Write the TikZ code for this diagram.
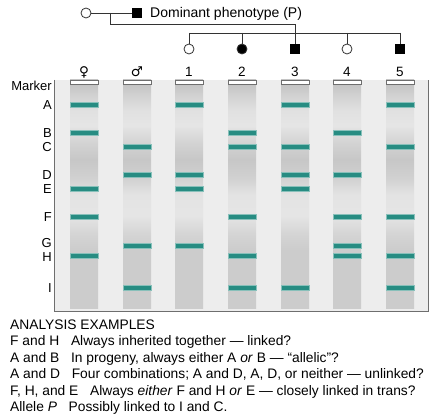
\documentclass[tikz,border=0pt]{standalone}
\usepackage{fontspec}
\setmainfont{Liberation Sans}
\newfontfamily\symfont{DejaVu Sans}
\usetikzlibrary{positioning}
\usepackage{xcolor}
\definecolor{bandteal}{HTML}{278C82}
\definecolor{gelbg}{HTML}{EDEDED}
\definecolor{gelline}{HTML}{6E6E6E}
\definecolor{pedline}{HTML}{333333}
\pgfdeclareverticalshading{lanegrad}{100bp}{%
  rgb(0bp)=(.80,.80,.80); rgb(25bp)=(.80,.80,.80); rgb(37.7bp)=(.80,.80,.80);%
  rgb(41bp)=(.83,.83,.83); rgb(45.4bp)=(.90,.90,.90); rgb(49.8bp)=(.89,.89,.89);%
  rgb(53.5bp)=(.82,.82,.82); rgb(57.5bp)=(.78,.78,.78); rgb(61.4bp)=(.83,.83,.83);%
  rgb(65.1bp)=(.90,.90,.90); rgb(68.4bp)=(.88,.88,.88); rgb(71.7bp)=(.82,.82,.82);%
  rgb(73.9bp)=(.77,.77,.77); rgb(75bp)=(.77,.77,.77); rgb(100bp)=(.77,.77,.77)}
\newcommand{\colgap}{\hspace{0.85em}}
\tikzset{
  txt/.style={font=\fontsize{13.5pt}{16pt}\selectfont, inner sep=0pt},
  ped/.style={draw=pedline, line width=0.8pt},
  female/.style={circle, draw=pedline, line width=0.8pt, fill=white,
                 minimum size=10pt, inner sep=0pt},
  affemale/.style={female, fill=black},
  afmale/.style={rectangle, fill=black, minimum size=9.5pt, inner sep=0pt},
  gel/.style={fill=gelbg, minimum width=373pt, minimum height=231pt, inner sep=0pt},
  lane/.style={shading=lanegrad, minimum width=28pt, minimum height=228pt, inner sep=0pt},
  well/.style={draw=gelline, fill=white, line width=0.8pt,
               minimum width=28pt, minimum height=4pt, inner sep=0pt},
  band/.style={fill=bandteal, draw=bandteal!55, line width=0.5pt,
               minimum width=28pt, minimum height=5pt, inner sep=0pt},
  marker/.style={anchor=east, inner sep=0pt, font=\fontsize{13pt}{16pt}\selectfont},
  note/.style={anchor=base west, inner sep=0pt, font=\fontsize{13.8pt}{16pt}\selectfont},
}

\begin{document}
\begin{tikzpicture}[x=1pt, y=-1pt]

\path[use as bounding box, fill=white] (0,0) rectangle (440,420);

%% ====================  PEDIGREE  ====================

\node[female] (mother) at (86,13) {};
\node[afmale] (father) at (137,13) {};
\node[anchor=base west, inner sep=0pt, font=\fontsize{14pt}{16pt}\selectfont]
  (pheno) at (150,18) {Dominant phenotype (P)};
\draw[ped] (mother) -- (father);

\foreach \k/\x/\sty in {1/189/female, 2/242/affemale, 3/295/afmale, 4/347/female, 5/400/afmale}
  \node[\sty] (kid\k) at (\x,49) {};

\coordinate (mate) at (110,13);
\coordinate (drop) at (110,24);
\coordinate (sib) at (295,33);
\draw[ped] (mate) -- (drop) -| (sib);
\draw[ped] (kid1 |- sib) -- (kid5 |- sib);
\foreach \k in {1,...,5}
  \draw[ped] (kid\k |- sib) -- (kid\k);

%% ====================  GEL  ====================

\node[gel] (gel) at (241.5,195.5) {};
\draw[gelline, line width=0.8pt] (gel.north west) -- (gel.south west)
  -- (gel.south east) -- (gel.north east);

\node[marker] (mklabel) at (52,86) {Marker};
\foreach \m/\y/\ly in {A/105/105, B/133/133, C/147/147, D/175/175, E/189/189,
                       F/217/217, G/246/243, H/256/257, I/288/288} {
  \coordinate (y\m) at (0,\y);
  \node[marker] (mk\m) at (52,\ly) {\m};
}

\foreach \lid/\x/\lab/\bands in {f/84/{\symfont ♀}/{A,B,E,F,H},
                                 m/137/{\symfont ♂}/{C,D,G,I},
                                 1/189/1/{A,D,E,G},
                                 2/242/2/{B,C,F,H,I},
                                 3/295/3/{A,C,D,E,I},
                                 4/347/4/{B,D,F,G,H},
                                 5/400/5/{A,C,F,H,I}} {
  \node[lane] (lane\lid) at (\x,194) {};
  \node[well, anchor=north] (well\lid) at (lane\lid.north) {};
  \node[txt] (lbl\lid) at (\x,72) {\lab};
  \foreach \b in \bands
    \node[band] (band\lid\b) at (lane\lid |- y\b) {};
}

%% ====================  NOTES  ====================

\foreach \t [count=\i from 0] in {
    {ANALYSIS EXAMPLES},
    {F and H\colgap Always inherited together --- linked?},
    {A and B\colgap In progeny, always either A \textit{or} B --- ``allelic''?},
    {A and D\colgap Four combinations; A and D, A, D, or neither --- unlinked?},
    {F, H, and E\colgap Always \textit{either} F and H \textit{or} E --- closely linked in trans?},
    {Allele \textit{P}\colgap Possibly linked to I and C.}}
  \node[note] (note\i) at (10,{329.5+16.4*\i}) {\t};

\end{tikzpicture}
\end{document}
